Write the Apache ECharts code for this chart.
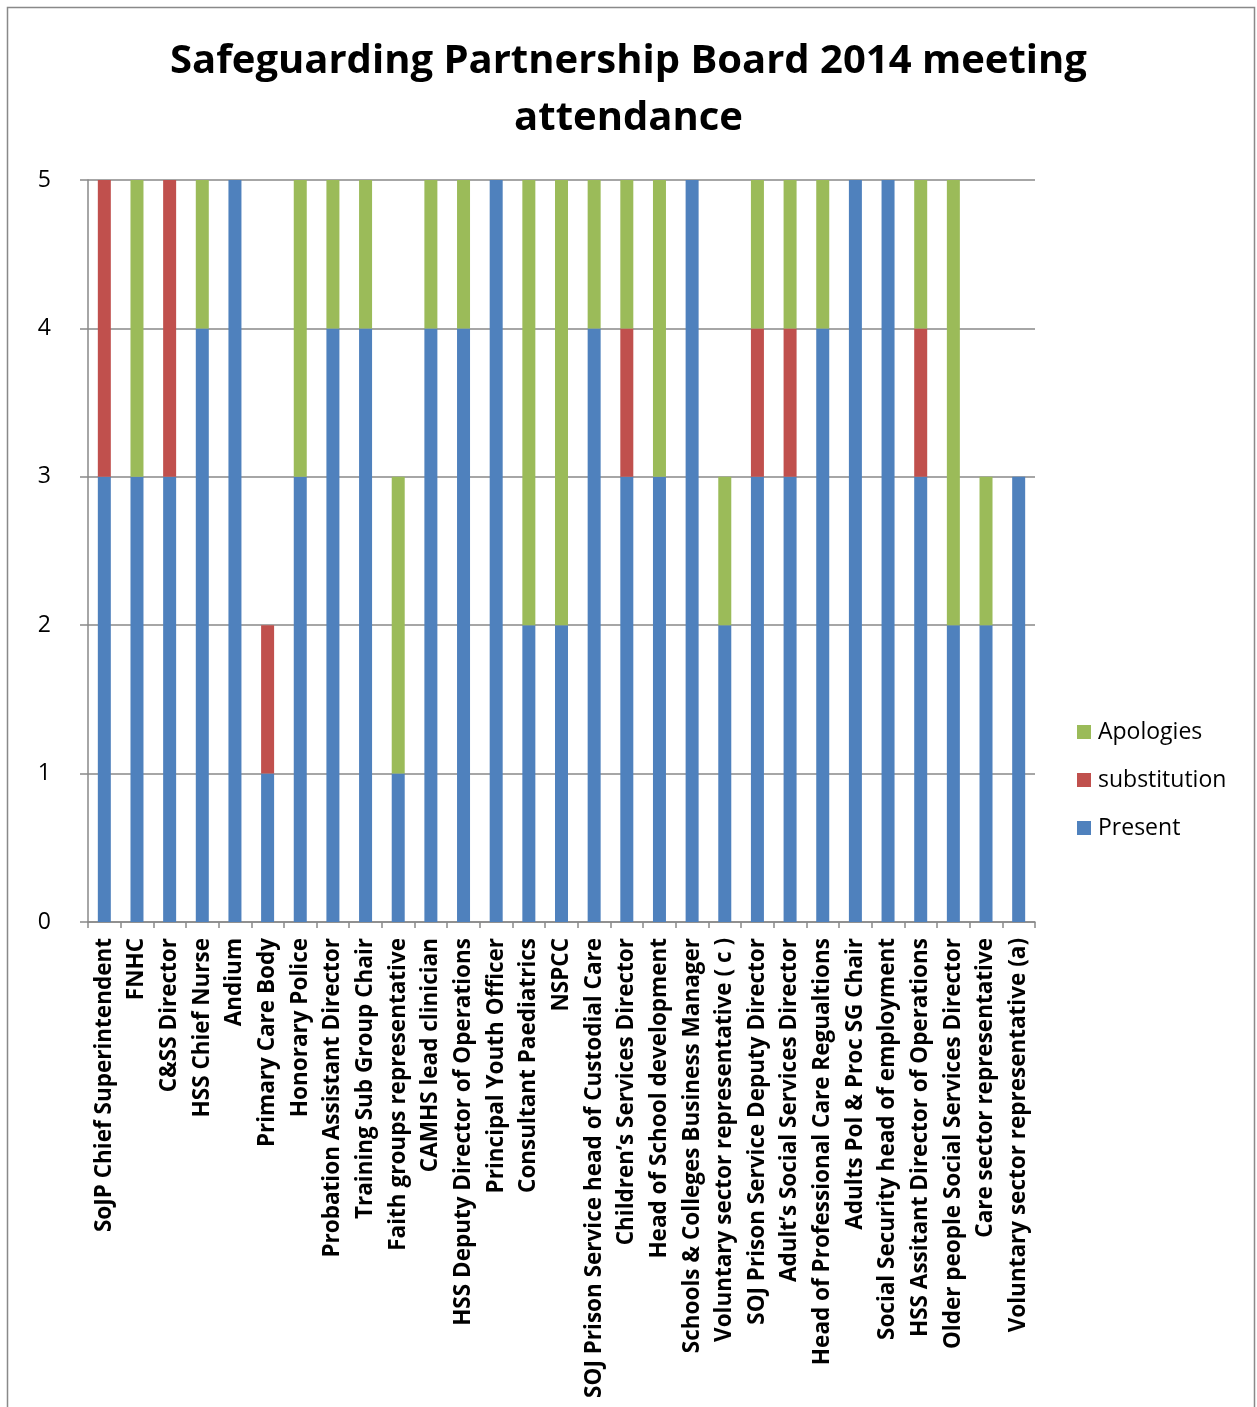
<!DOCTYPE html>
<html>
<head>
<meta charset="utf-8">
<script src="https://cdn.jsdelivr.net/npm/echarts@6/dist/echarts.min.js"></script>
<style>
html,body{margin:0;padding:0;background:#fff;}
#c{width:1257px;height:1407px;}
</style>
</head>
<body>
<div id="c"></div>
<script>
var categories = [
  'SoJP Chief Superintendent','FNHC','C&SS Director','HSS Chief Nurse','Andium',
  'Primary Care Body','Honorary Police','Probation Assistant Director','Training Sub Group Chair',
  'Faith groups representative','CAMHS lead clinician','HSS Deputy Director of Operations',
  'Principal Youth Officer','Consultant Paediatrics','NSPCC','SOJ Prison Service head of Custodial Care',
  'Children\u2019s Services Director','Head of School development','Schools & Colleges Business Manager',
  'Voluntary sector representative ( c )','SOJ Prison Service Deputy Director','Adult\u2019s Social Services Director',
  'Head of Professional Care Regualtions','Adults Pol & Proc SG Chair','Social Security head of employment',
  'HSS Assitant Director of Operations','Older people Social Services Director','Care sector representative',
  'Voluntary sector representative (a)'
];
var present      = [3,3,3,4,5,1,3,4,4,1,4,4,5,2,2,4,3,3,5,2,3,3,4,5,5,3,2,2,3];
var substitution = [2,0,2,0,0,1,0,0,0,0,0,0,0,0,0,0,1,0,0,0,1,1,0,0,0,1,0,0,0];
var apologies    = [0,2,0,1,0,0,2,1,1,2,1,1,0,3,3,1,1,2,0,1,1,1,1,0,0,1,3,1,0];
var yTicks = [0,1,2,3,4,5];

var chart = echarts.init(document.getElementById('c'));
var font = '"Open Sans", sans-serif';
chart.setOption({
  animation:false,
  backgroundColor:'#fff',
  title:{
    text:'Safeguarding Partnership Board 2014 meeting\nattendance',
    left:'center', top:28,
    textStyle:{fontFamily:font,fontSize:40,fontWeight:'bold',color:'#000',lineHeight:57}
  },
  graphic:[{type:'rect',shape:{x:7.5,y:7.5,width:1247,height:1420},style:{fill:'none',stroke:'#898989',lineWidth:1.5},silent:true}],
  legend:{
    orient:'vertical', left:1072, top:715,
    data:['Apologies','substitution','Present'],
    itemWidth:14,itemHeight:14,itemGap:24,
    icon:'rect',
    textStyle:{fontFamily:font,fontSize:23,color:'#000',lineHeight:24,padding:[0,0,0,2]}
  },
  grid:{left:88,right:222,top:180,bottom:485,containLabel:false},
  xAxis:{
    type:'category',data:categories,
    axisLine:{lineStyle:{color:'#898989',width:1.5}},
    axisTick:{show:true,length:6,lineStyle:{color:'#898989',width:1.5}},
    axisLabel:{rotate:90,interval:0,margin:16,fontFamily:font,fontSize:22.5,fontWeight:'bold',color:'#000'}
  },
  yAxis:{
    type:'value',min:0,max:5,interval:1,
    axisLine:{show:true,lineStyle:{color:'#898989',width:1.5}},
    axisTick:{show:true,length:8,lineStyle:{color:'#898989',width:1.5}},
    splitLine:{lineStyle:{color:'#898989',width:1.5}},
    axisLabel:{margin:37,fontFamily:font,fontSize:23,color:'#000',
      formatter:function(v){return yTicks.indexOf(v)>=0?String(v):'';}}
  },
  series:[
    {name:'Present',type:'bar',stack:'a',data:present,barWidth:13,itemStyle:{color:'#4F81BD'}},
    {name:'substitution',type:'bar',stack:'a',data:substitution,barWidth:13,itemStyle:{color:'#C0504D'}},
    {name:'Apologies',type:'bar',stack:'a',data:apologies,barWidth:13,itemStyle:{color:'#9BBB59'}}
  ]
});
</script>
</body>
</html>
